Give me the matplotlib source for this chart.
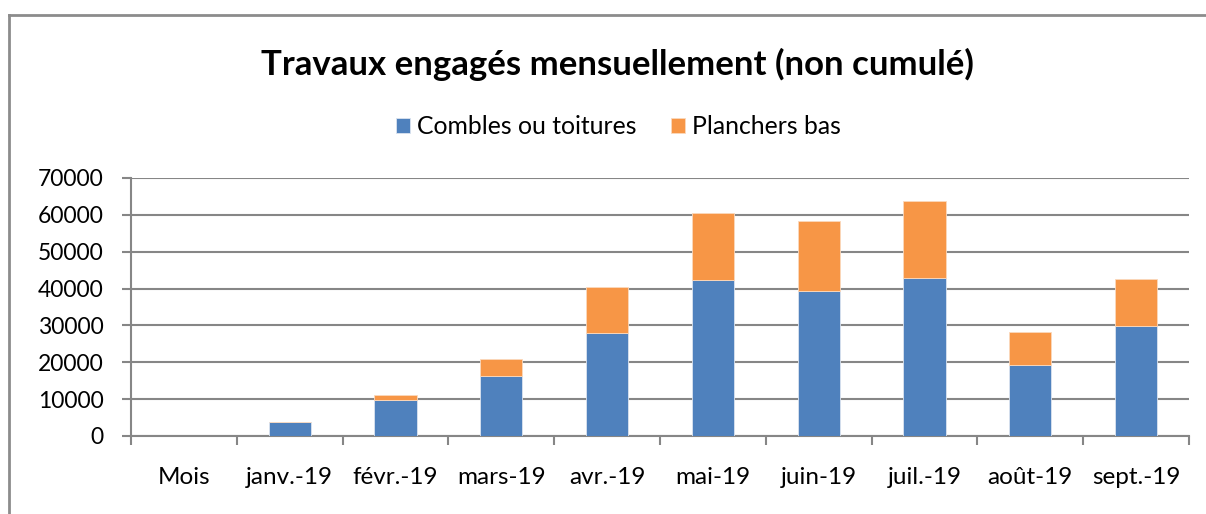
import matplotlib
matplotlib.use("Agg")
import matplotlib.pyplot as plt
from matplotlib.lines import Line2D
import numpy as np

# données
mois = ["Mois", "janv.-19", "févr.-19", "mars-19", "avr.-19", "mai-19",
        "juin-19", "juil.-19", "août-19", "sept.-19"]
combles = [np.nan, 3700, 9800, 16400, 28000, 42200, 39400, 42800, 19300, 29800]
planchers = [np.nan, 0, 1400, 4500, 12300, 18400, 19000, 21000, 8900, 12800]
yticks = [0, 10000, 20000, 30000, 40000, 50000, 60000, 70000]

bleu = "#4F81BD"
orange = "#F79646"
gris = "#868686"

plt.rcParams['font.family'] = ['Lato', 'DejaVu Sans']

fig = plt.figure(figsize=(12.06, 5.14), dpi=100)
ax = fig.add_axes([131 / 1206, 1 - 436 / 514, (1189 - 131) / 1206, (436 - 178) / 514])

x = np.arange(len(mois))
ax.bar(x, combles, width=0.4, color=bleu, edgecolor="#dbe3ef", linewidth=0.6,
       label="Combles ou toitures", zorder=3)
ax.bar(x, planchers, width=0.4, bottom=combles, color=orange, edgecolor="#fbd9bd",
       linewidth=0.6, label="Planchers bas", zorder=3)

ax.set_xlim(-0.5, len(mois) - 0.5)
ax.set_ylim(0, 70000)
ax.set_yticks(yticks)
ax.set_yticklabels([str(v) for v in yticks])
ax.yaxis.grid(True, color=gris, linewidth=1.5, zorder=0)

# étiquettes au centre, graduations entre les catégories
ax.set_xticks(x)
ax.set_xticklabels(mois)
ax.set_xticks(np.arange(len(mois) + 1) - 0.5, minor=True)
ax.tick_params(axis="x", which="major", length=0, pad=22, labelsize=17.5)
ax.tick_params(axis="x", which="minor", length=6.5, width=1.5, color=gris)
ax.tick_params(axis="y", length=6.5, width=1.5, color=gris, pad=13, labelsize=16.5)

for s in ["top", "right"]:
    ax.spines[s].set_visible(False)
for s in ["left", "bottom"]:
    ax.spines[s].set_color(gris)
    ax.spines[s].set_linewidth(1.5)

fig.text(0.512, 0.875, "Travaux engagés mensuellement (non cumulé)",
         ha="center", va="center", fontsize=25, fontweight="bold")

ax.legend(loc="center", bbox_to_anchor=(0.513, 0.753), bbox_transform=fig.transFigure,
          ncol=2, frameon=False, fontsize=17.8, handlelength=0.55, handleheight=0.55,
          handletextpad=0.3, columnspacing=1.4)

# cadre extérieur du graphique
fig.add_artist(Line2D([9 / 1206, 9 / 1206], [0, 1 - 15 / 514], color="#8c8c8c",
                      linewidth=2, transform=fig.transFigure))
fig.add_artist(Line2D([9 / 1206, 1], [1 - 15 / 514, 1 - 15 / 514], color="#8c8c8c",
                      linewidth=2, transform=fig.transFigure))

fig.savefig("out.png", dpi=100)
